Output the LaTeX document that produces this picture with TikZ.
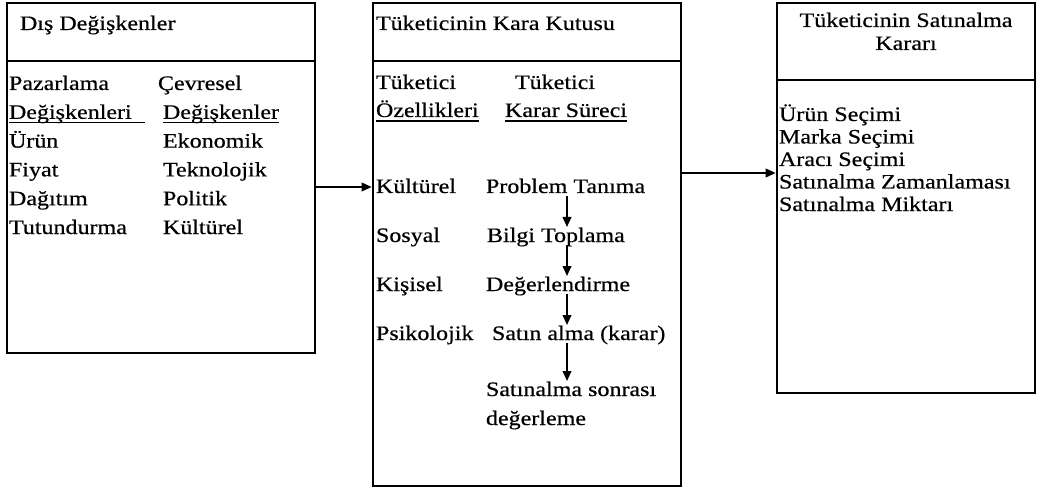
\documentclass[tikz,border=0pt]{standalone}
\usepackage{fontspec}
\setmainfont[FakeStretch=1.17,FakeBold=0.5]{Liberation Serif}
\usetikzlibrary{arrows.meta,fit,calc}
\newcommand{\fs}{\fontsize{15.4}{18}\selectfont}
\begin{document}
\begin{tikzpicture}[x=0.75pt,y=-0.75pt,
  txt/.style={anchor=base west,inner sep=0pt,outer sep=0pt,font=\fs},
  ctxt/.style={anchor=base,inner sep=0pt,outer sep=0pt,font=\fs},
  frame/.style={draw,line width=2pt,inner sep=0pt,fit=#1},
  rule/.style={line width=2pt},
  uline/.style={line width=1pt},
  arr/.style={line width=1.3pt,-{Triangle[length=7.5pt,width=6.5pt]}}]
\useasboundingbox (0,0) rectangle (1037,488);
% frames
\coordinate (p1) at (7,3);   \coordinate (q1) at (315,353);
\coordinate (p2) at (373,3); \coordinate (q2) at (681,486);
\coordinate (p3) at (777,3); \coordinate (q3) at (1035,393);
\node[frame={(p1)(q1)}] (box1) {};
\node[frame={(p2)(q2)}] (box2) {};
\node[frame={(p3)(q3)}] (box3) {};
\coordinate (h1) at (0,61); \coordinate (h3) at (0,80);
\draw[rule] (box1.west |- h1) -- (box1.east |- h1);
\draw[rule] (box2.west |- h1) -- (box2.east |- h1);
\draw[rule] (box3.west |- h3) -- (box3.east |- h3);
% box 1
\node[txt] (t1) at (20,30) {Dış Değişkenler};
\foreach \t [count=\i] in {Pazarlama,Değişkenleri,Ürün,Fiyat,Dağıtım,Tutundurma}
  \node[txt] (la\i) at (9,{90+(\i-1)*28.8}) {\t};
\node[txt] (lb1) at (158,90) {Çevresel};
\foreach \t [count=\i from 2] in {Değişkenler,Ekonomik,Teknolojik,Politik,Kültürel}
  \node[txt] (lb\i) at (163,{90+(\i-1)*28.8}) {\t};
\draw[uline] ($(la2.base west)+(0,4)$) -- ($(la2.base east)+(13,4)$);
\draw[uline] ($(lb2.base west)+(0,4)$) -- ($(lb2.base east)+(0,4)$);
% box 2
\node[txt] (t2) at (376,30) {Tüketicinin Kara Kutusu};
\node[txt] (ca1) at (376,89) {Tüketici};
\node[txt] (ca2) at (376,117) {Özellikleri};
\node[txt] (cb1) at (515,89) {Tüketici};
\node[txt] (cb2) at (505,117) {Karar Süreci};
\draw[uline] ($(ca2.base west)+(0,4)$) -- ($(ca2.base east)+(0,4)$);
\draw[uline] ($(cb2.base west)+(0,4)$) -- ($(cb2.base east)+(0,4)$);
\node[txt] (k1) at (376,193) {Kültürel};
\node[txt] (k2) at (376,242) {Sosyal};
\node[txt] (k3) at (376,291) {Kişisel};
\node[txt] (k4) at (376,340) {Psikolojik};
\node[txt] (s1) at (486,193) {Problem Tanıma};
\node[txt] (s2) at (487,242) {Bilgi Toplama};
\node[txt] (s3) at (486,291) {Değerlendirme};
\node[txt] (s4) at (492,340) {Satın alma (karar)};
\node[txt] (s5) at (486,396) {Satınalma sonrası};
\node[txt] (s6) at (486,425) {değerleme};
\coordinate (ax) at (567,0);
\draw[arr] ($(s1.base -| ax)+(0,3)$) -- ($(s2.base -| ax)+(0,-15)$);
\draw[arr] ($(s2.base -| ax)+(0,3)$) -- ($(s3.base -| ax)+(0,-15)$);
\draw[arr] ($(s3.base -| ax)+(0,3)$) -- ($(s4.base -| ax)+(0,-15)$);
\draw[arr] ($(s4.base -| ax)+(0,3)$) -- ($(s5.base -| ax)+(0,-15)$);
% box 3
\node[ctxt] (t3a) at (906,27) {Tüketicinin Satınalma};
\node[ctxt] (t3b) at (906,50) {Kararı};
\foreach \t [count=\i] in {Ürün Seçimi,Marka Seçimi,Aracı Seçimi,Satınalma Zamanlaması,Satınalma Miktarı}
  \node[txt] (r\i) at (779,{121+(\i-1)*22.5}) {\t};
% connectors between boxes
\coordinate (y1) at (0,187); \coordinate (y2) at (0,173);
\draw[arr] (box1.east |- y1) -- (box2.west |- y1);
\draw[arr] (box2.east |- y2) -- (box3.west |- y2);
\end{tikzpicture}
\end{document}
